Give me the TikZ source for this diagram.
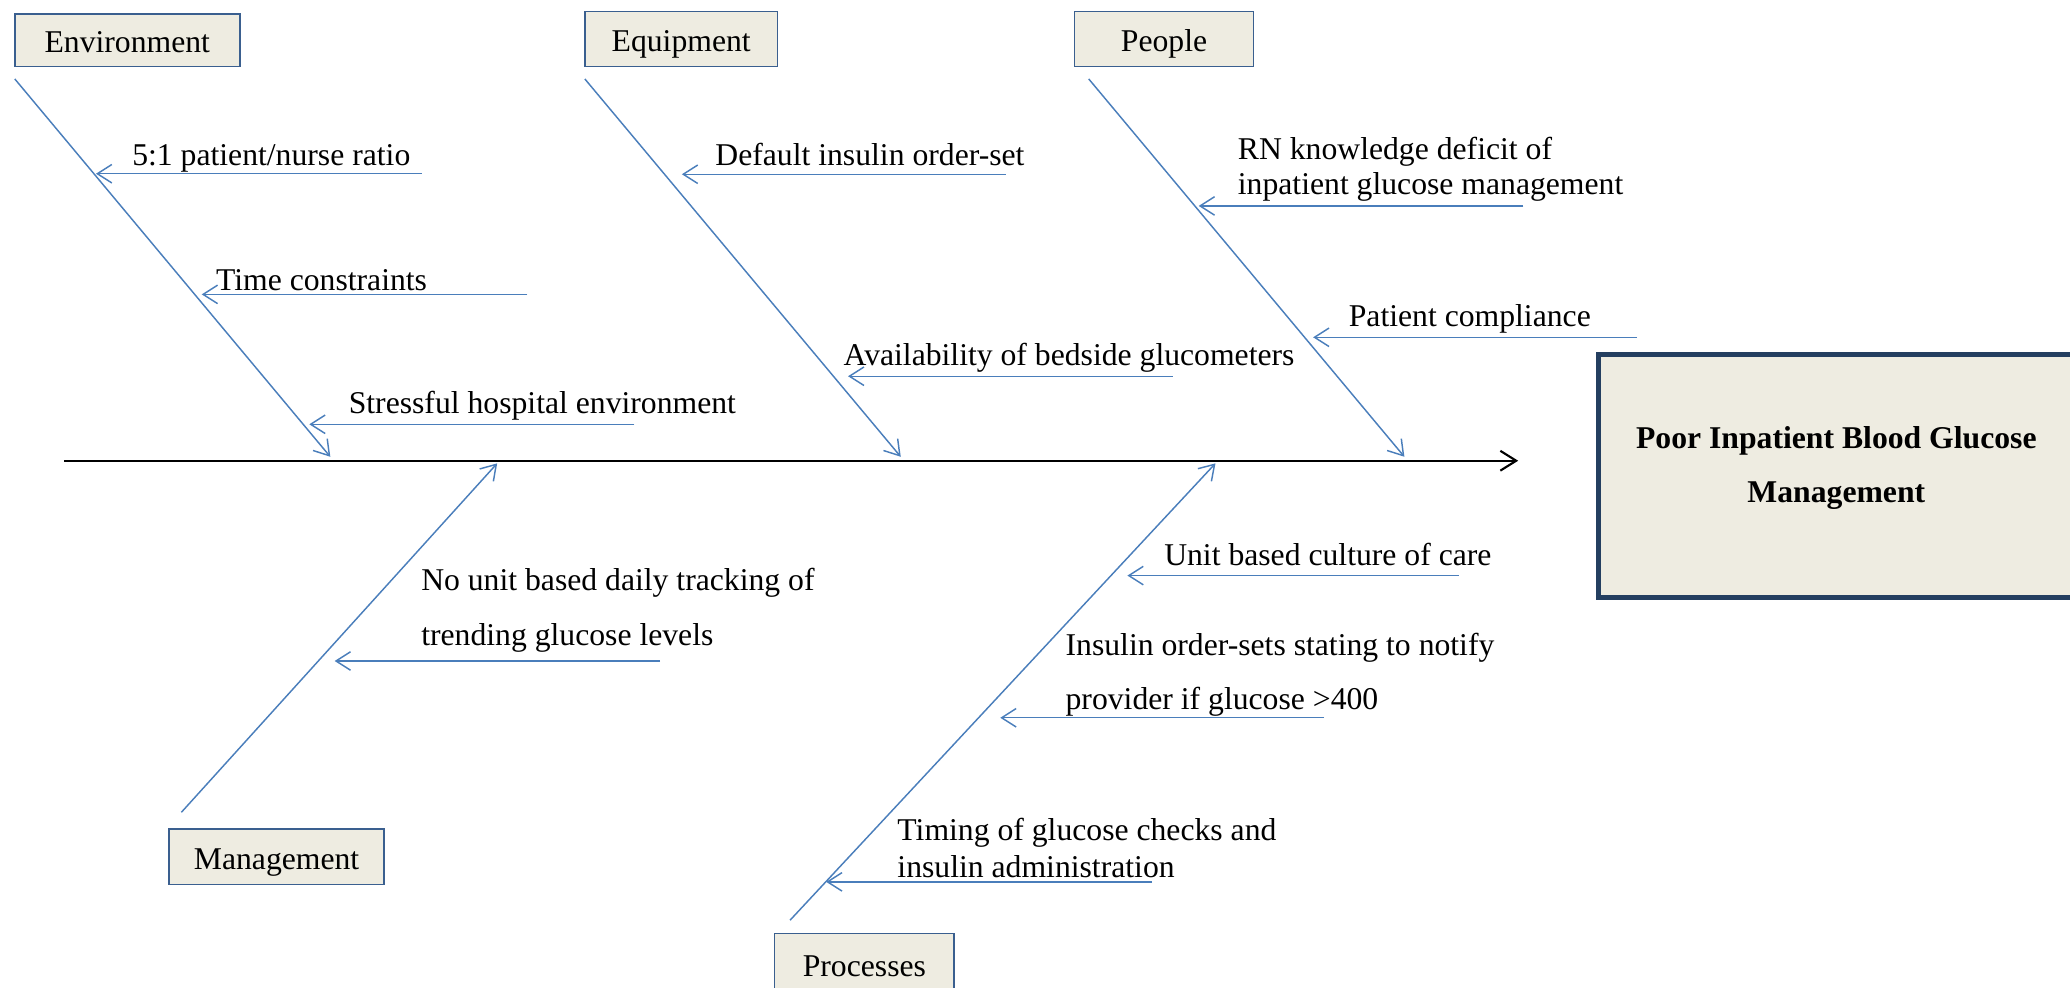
\documentclass[tikz,border=0pt]{standalone}
\usepackage{fontspec}
\setmainfont{Liberation Serif}
\usetikzlibrary{arrows.meta}
\definecolor{lblue}{HTML}{4A7EBB}
\definecolor{bbord}{HTML}{3A5F8F}
\definecolor{tanfill}{HTML}{EEECE1}
\definecolor{navyb}{HTML}{243F60}
\begin{document}
\begin{tikzpicture}[x=0.5pt,y=-0.5pt,
  font=\fontsize{12}{14}\selectfont,
  cat/.style={draw=bbord, line width=0.6pt, fill=tanfill, inner sep=0pt, text height=9.6pt, text depth=0pt},
  lbl/.style={anchor=base west, inner sep=0pt},
  cause/.style={draw=lblue, line width=0.55pt, -{Straight Barb[length=5.5pt,width=7pt]}},
  mainax/.style={draw=black, line width=0.8pt, -{Straight Barb[length=6pt,width=7.5pt]}}]
\useasboundingbox (0,0) rectangle (1568,748);
\clip (0,0) rectangle (1568,748);

% category boxes
\node[cat, minimum width=85.2pt, minimum height=19.95pt] (env) at (96.4,30.55) {Environment};
\node[cat, minimum width=73pt, minimum height=20.85pt] (equ) at (516,29.65) {Equipment};
\node[cat, minimum width=67.75pt, minimum height=20.85pt] (peo) at (881.75,29.65) {People};
\node[cat, minimum width=81.5pt, minimum height=21pt] (man) at (209.5,649) {Management};
\node[cat, minimum width=68pt, minimum height=23pt] (pro) at (654.75,730) {Processes};

% effect box
\node[draw=navyb, line width=1.9pt, fill=tanfill, inner sep=0pt,
      minimum width=180.5pt, minimum height=92.15pt] (effect) at (1391,360.45) {};
\node[align=center, inner sep=0pt, yshift=3pt,
      font=\fontsize{12}{20.7}\selectfont\bfseries] (effText) at (effect.center)
      {Poor Inpatient Blood Glucose\\Management};

% main axis
\coordinate (mainS) at (48.5,349);
\coordinate (mainE) at (1150,349);
\draw[mainax] (mainS) -- (mainE);

% spines
\coordinate (envS) at (11.2,59.8);   \coordinate (envE) at (250.2,346);
\coordinate (equS) at (443,59.8);    \coordinate (equE) at (682.3,346);
\coordinate (peoS) at (824.7,59.8);  \coordinate (peoE) at (1063.8,346);
\coordinate (manS) at (137.4,615.3); \coordinate (manE) at (376.6,351);
\coordinate (proS) at (598.5,697);   \coordinate (proE) at (920.7,351);
\draw[cause] (envS) -- (envE);
\draw[cause] (equS) -- (equE);
\draw[cause] (peoS) -- (peoE);
\draw[cause] (manS) -- (manE);
\draw[cause] (proS) -- (proE);

% cause labels
\node[lbl] (t51) at (99.8,125) {5:1 patient/nurse ratio};
\node[lbl] (ttime) at (163.3,219.7) {Time constraints};
\node[lbl] (tstress) at (263.8,313) {Stressful hospital environment};
\node[lbl] (tdef) at (541.5,125) {Default insulin order-set};
\node[lbl] (tavail) at (638.7,277) {Availability of bedside glucometers};
\node[lbl] (trna) at (937.3,120.7) {RN knowledge deficit of};
\node[lbl] (trnb) at (937.3,147.7) {inpatient glucose management};
\node[lbl] (tpc) at (1021.3,247.5) {Patient compliance};
\node[lbl] (tnoa) at (318.7,447) {No unit based daily tracking of};
\node[lbl] (tnob) at (318.7,488.6) {trending glucose levels};
\node[lbl] (tunit) at (881.5,428) {Unit based culture of care};
\node[lbl] (tinsa) at (806.8,496.5) {Insulin order-sets stating to notify};
\node[lbl] (tinsb) at (806.8,537.8) {provider if glucose >400};
\node[lbl] (ttima) at (679.4,636.5) {Timing of glucose checks and};
\node[lbl] (ttimb) at (679.4,664.4) {insulin administration};

% cause arrows
\coordinate (aS1) at (319.6,131.6);  \coordinate (aE1) at (72.7,131.6);
\coordinate (aS2) at (399.4,223);    \coordinate (aE2) at (152.8,223);
\coordinate (aS3) at (480.5,321.4);  \coordinate (aE3) at (234.3,321.4);
\coordinate (aS4) at (762,132);      \coordinate (aE4) at (516.5,132);
\coordinate (aS5) at (888.5,285);    \coordinate (aE5) at (642.4,285);
\coordinate (aS6) at (1154,156);     \coordinate (aE6) at (908,156);
\coordinate (aS7) at (1240,255.5);   \coordinate (aE7) at (994.7,255.5);
\coordinate (aS8) at (500,500.7);    \coordinate (aE8) at (253.5,500.7);
\coordinate (aS9) at (1105,436);     \coordinate (aE9) at (854,436);
\coordinate (aS10) at (1003,543.7);  \coordinate (aE10) at (757.7,543.7);
\coordinate (aS11) at (872.8,668);   \coordinate (aE11) at (625.8,668);
\foreach \i in {1,...,11} {\draw[cause] (aS\i) -- (aE\i);}
\end{tikzpicture}
\end{document}
